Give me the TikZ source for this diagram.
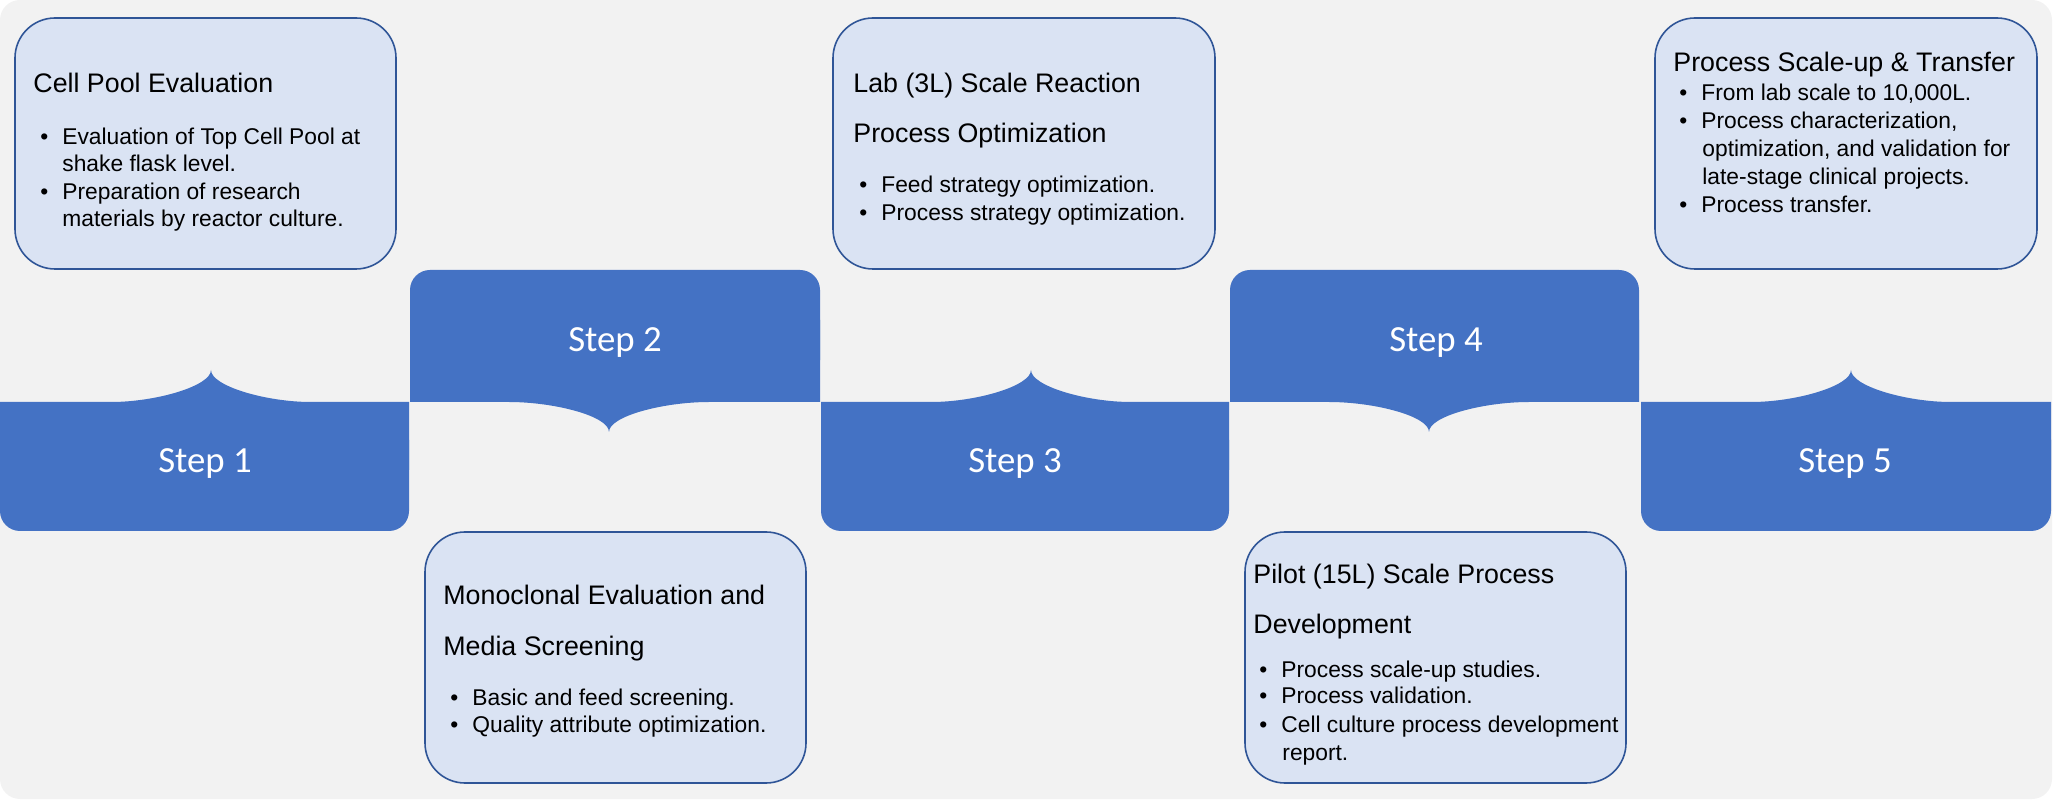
\documentclass[tikz,border=0pt]{standalone}
\usepackage{fontspec}
\setmainfont{Liberation Sans}
\newfontfamily\stepfont{Carlito}
\definecolor{stepblue}{HTML}{4472C4}
\definecolor{boxfill}{HTML}{DAE3F3}
\definecolor{boxline}{HTML}{2F5597}
\definecolor{bggray}{HTML}{F2F2F2}
\newcommand\mkLowStep[3]{%
  \fill[stepblue, rounded corners=10pt] (#1,420) rectangle (#2,531);
  \fill[stepblue] (#1,402) -- ({#3-100},402) .. controls ({#3-55},402) and (#3,386) .. (#3,370)
    .. controls (#3,386) and ({#3+55},402) .. ({#3+100},402) -- (#2,402) -- (#2,470) -- (#1,470) -- cycle;}
\newcommand\mkHighStep[3]{%
  \fill[stepblue, rounded corners=10pt] (#1,270) rectangle (#2,380);
  \fill[stepblue] (#1,320) -- (#2,320) -- (#2,402) -- ({#3+100},402) .. controls ({#3+55},402) and (#3,416) .. (#3,432)
    .. controls (#3,416) and ({#3-55},402) .. ({#3-100},402) -- (#1,402) -- cycle;}
\newcommand\bul{\makebox[11pt][l]{\textbullet}}
\begin{document}
\begin{tikzpicture}[x=0.5pt,y=-0.5pt,
  boxshape/.style={draw=boxline, fill=boxfill, line width=0.8pt, rounded corners=20pt, inner sep=0pt},
  ttl/.style={anchor=base west, inner sep=0pt, font=\fontsize{13.4}{16}\selectfont},
  itm/.style={anchor=base west, inner sep=0pt, font=\fontsize{11.4}{14}\selectfont},
  steplabel/.style={text=white, font=\stepfont\fontsize{18.4}{22}\selectfont, inner sep=0pt}]
\useasboundingbox (0,0) rectangle (2056,801);
\fill[bggray, rounded corners=10pt] (0,0) rectangle (2052,799);

% step blocks
\mkLowStep{0}{409}{211}
\mkHighStep{410}{820}{609}
\mkLowStep{821}{1229}{1031}
\mkHighStep{1230}{1639}{1429}
\mkLowStep{1641}{2051}{1851}

\node[steplabel] (s1) at (205,464) {Step 1};
\node[steplabel] (s2) at (615,343) {Step 2};
\node[steplabel] (s3) at (1015,464) {Step 3};
\node[steplabel] (s4) at (1436,343) {Step 4};
\node[steplabel] (s5) at (1845,464) {Step 5};

% boxes
\node[boxshape, minimum width=190.5pt, minimum height=125.5pt] (b1) at (205.5,143.5) {};
\node[boxshape, minimum width=190.5pt, minimum height=125.5pt] (b2) at (615.5,657.5) {};
\node[boxshape, minimum width=191pt, minimum height=125.5pt] (b3) at (1024,143.5) {};
\node[boxshape, minimum width=190.5pt, minimum height=125.5pt] (b4) at (1435.5,657.5) {};
\node[boxshape, minimum width=191pt, minimum height=125.5pt] (b5) at (1846,143.5) {};

% box 1
\node[ttl] (t1) at (33,93) {Cell Pool Evaluation};
\node[itm] (i1a) at (40,145) {\bul Evaluation of Top Cell Pool at};
\node[itm] (i1b) at (62,172) {shake flask level.};
\node[itm] (i1c) at (40,200) {\bul Preparation of research};
\node[itm] (i1d) at (62,227) {materials by reactor culture.};

% box 2
\node[ttl] (t2a) at (443,605) {Monoclonal Evaluation and};
\node[ttl] (t2b) at (443,655) {Media Screening};
\node[itm] (i2a) at (450,705) {\bul Basic and feed screening.};
\node[itm] (i2b) at (450,732) {\bul Quality attribute optimization.};

% box 3
\node[ttl] (t3a) at (853,93) {Lab (3L) Scale Reaction};
\node[ttl] (t3b) at (853,143) {Process Optimization};
\node[itm] (i3a) at (859,193) {\bul Feed strategy optimization.};
\node[itm] (i3b) at (859,221) {\bul Process strategy optimization.};

% box 4
\node[ttl] (t4a) at (1253,584) {Pilot (15L) Scale Process};
\node[ttl] (t4b) at (1253,633) {Development};
\node[itm] (i4a) at (1259,677) {\bul Process scale-up studies.};
\node[itm] (i4b) at (1259,704) {\bul Process validation.};
\node[itm] (i4c) at (1259,732) {\bul Cell culture process development};
\node[itm] (i4d) at (1282,760) {report.};

% box 5
\node[ttl] (t5) at (1673,72) {Process Scale-up \& Transfer};
\node[itm] (i5a) at (1679,101) {\bul From lab scale to 10,000L.};
\node[itm] (i5b) at (1679,129) {\bul Process characterization,};
\node[itm] (i5c) at (1702,157) {optimization, and validation for};
\node[itm] (i5d) at (1702,185) {late-stage clinical projects.};
\node[itm] (i5e) at (1679,213) {\bul Process transfer.};
\end{tikzpicture}
\end{document}
